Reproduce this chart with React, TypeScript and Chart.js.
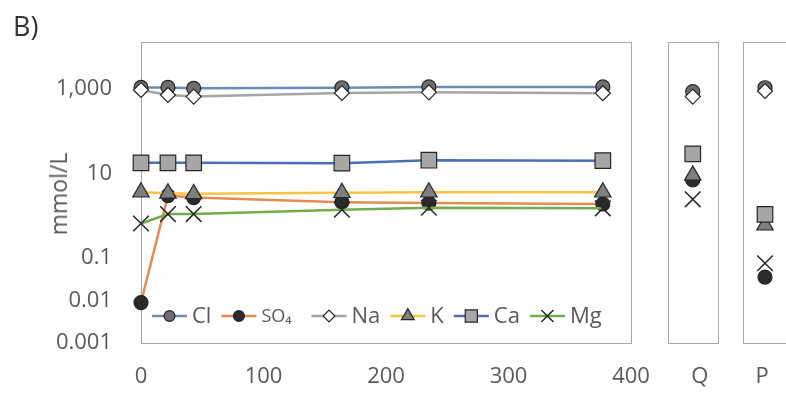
import React, { useEffect, useRef } from 'react';
import { Chart, registerables } from 'chart.js';

Chart.register(...registerables);

// ---- data ----
const days = [0, 22, 43, 164, 235, 377];
const ions = ['Cl', 'SO₄', 'Na', 'K', 'Ca', 'Mg'];
const clValues = [1070, 1070, 1020, 1050, 1100, 1100];
const so4Values = [0.009, 3.0, 2.7, 2.1, 2.0, 1.9];
const naValues = [930, 710, 650, 790, 820, 780];
const kValues = [3.6, 3.4, 3.3, 3.5, 3.6, 3.6];
const caValues = [17.8, 17.8, 17.8, 17.5, 20.5, 20];
const mgValues = [0.66, 1.1, 1.1, 1.4, 1.55, 1.5];
// side panels, values in the order of `ions`
const qValues = [850, 7.0, 650, 9, 29, 2.45];
const pValues = [1050, 0.036, 880, 0.6, 1.08, 0.076];
const qLabel = 'Q';
const pLabel = 'P';
const xTicks = [0, 100, 200, 300, 400];
const yTicks = [0.001, 0.01, 0.1, 1, 10, 100, 1000, 10000];
const yTickText: Record<string, string> = {
  '0.001': '0.001',
  '0.01': '0.01',
  '0.1': '0.1',
  '10': '10',
  '1000': '1,000',
};
const yTitle = 'mmol/L';
const panelTitle = 'B)';

const series = [clValues, so4Values, naValues, kValues, caValues, mgValues];

// ---- styles ----
const FONT = '"Open Sans", "Liberation Sans", sans-serif';
const TEXT = '#595959';
const styles = [
  { line: '#6b8db3', shape: 'circle', fill: '#6e6e6e', r: 7 },
  { line: '#e38d52', shape: 'circle', fill: '#2b2b2b', r: 7 },
  { line: '#a5a5a5', shape: 'rectRot', fill: '#ffffff', r: 7.5 },
  { line: '#f5c443', shape: 'triangle', fill: '#7f7f7f', r: 9.5 },
  { line: '#4a6fb5', shape: 'rect', fill: '#a6a6a6', r: 11 },
  { line: '#74ab4c', shape: 'crossRot', fill: '#333333', r: 11 },
];
const MARKER_BORDER = '#262626';

function drawMarker(ctx: CanvasRenderingContext2D, shape: string, x: number, y: number, r: number, fill: string) {
  ctx.save();
  ctx.beginPath();
  ctx.lineWidth = shape === 'crossRot' ? 1.5 : 1.2;
  ctx.strokeStyle = MARKER_BORDER;
  ctx.fillStyle = fill;
  if (shape === 'circle') {
    ctx.arc(x, y, r, 0, Math.PI * 2);
  } else if (shape === 'rectRot') {
    ctx.moveTo(x - r, y);
    ctx.lineTo(x, y - r);
    ctx.lineTo(x + r, y);
    ctx.lineTo(x, y + r);
    ctx.closePath();
  } else if (shape === 'triangle') {
    const w = r * Math.sqrt(3) / 2;
    ctx.moveTo(x, y - r);
    ctx.lineTo(x + w, y + r / 2);
    ctx.lineTo(x - w, y + r / 2);
    ctx.closePath();
  } else if (shape === 'rect') {
    const h = r * Math.SQRT1_2;
    ctx.rect(x - h, y - h, 2 * h, 2 * h);
  } else {
    const h = r * Math.SQRT1_2;
    ctx.moveTo(x - h, y - h);
    ctx.lineTo(x + h, y + h);
    ctx.moveTo(x + h, y - h);
    ctx.lineTo(x - h, y + h);
  }
  if (shape !== 'crossRot') ctx.fill();
  ctx.stroke();
  ctx.restore();
}

const boxPlugin = {
  id: 'plotBox',
  beforeDatasetsDraw(chart: any) {
    const { ctx, chartArea: a } = chart;
    ctx.save();
    ctx.strokeStyle = '#a6a6a6';
    ctx.lineWidth = 1;
    ctx.strokeRect(Math.round(a.left) + 0.5, Math.round(a.top) + 0.5, Math.round(a.right - a.left), Math.round(a.bottom - a.top));
    ctx.restore();
  },
};

const legendPlugin = {
  id: 'innerLegend',
  afterDraw(chart: any) {
    const { ctx, chartArea: a } = chart;
    const y = a.bottom - 27;
    const lineLen = 35;
    const textGap = 5;
    const itemGap = 10;
    const fonts = ions.map((l) => (l === 'SO₄' ? `18px ${FONT}` : `22px ${FONT}`));
    const extra = ions.map((l) => (l === 'SO₄' ? 10 : 0));
    ctx.save();
    let x = a.left + 11;
    ions.forEach((label, i) => {
      const st = styles[i];
      ctx.beginPath();
      ctx.strokeStyle = st.line;
      ctx.lineWidth = 2.5;
      ctx.moveTo(x, y);
      ctx.lineTo(x + lineLen, y);
      ctx.stroke();
      drawMarker(ctx, st.shape, x + lineLen / 2, y, st.r * 0.78, st.fill);
      ctx.font = fonts[i];
      ctx.fillStyle = TEXT;
      ctx.textAlign = 'left';
      ctx.textBaseline = 'middle';
      ctx.fillText(label, x + lineLen + textGap, y + 1);
      const w = ctx.measureText(label).width;
      x += lineLen + textGap + w + extra[i] + itemGap;
    });
    ctx.restore();
  },
};

function yScale(display: boolean) {
  return {
    type: 'logarithmic',
    display,
    min: 0.001,
    max: 12600,
    afterBuildTicks: (s: any) => {
      s.ticks = yTicks.map((v) => ({ value: v }));
    },
    afterFit: (s: any) => {
      s.width = display ? 141 : 0;
      s.paddingTop = 0;
      s.paddingBottom = 0;
    },
    grid: { display: false, drawTicks: false },
    border: { display: false },
    ticks: {
      autoSkip: false,
      color: TEXT,
      padding: 29,
      font: { family: FONT, size: 22 },
      callback: (v: any) => yTickText[String(v)] ?? '',
    },
    title: { display: false },
  };
}

function xTickCfg(labelOffset: number) {
  return {
    color: TEXT,
    padding: 21,
    maxRotation: 0,
    autoSkip: false,
    labelOffset,
    font: { family: FONT, size: 22 },
  };
}

function xFit(s: any) {
  s.height = 50;
  s.paddingLeft = 0;
  s.paddingRight = 0;
}

function mainConfig(): any {
  return {
    type: 'line',
    data: {
      datasets: ions.map((label, i) => ({
        label,
        data: days.map((d, j) => ({ x: d, y: series[i][j] })),
        borderColor: styles[i].line,
        borderWidth: 2.5,
        pointStyle: styles[i].shape,
        pointRadius: styles[i].r,
        pointBackgroundColor: styles[i].fill,
        pointBorderColor: MARKER_BORDER,
        pointBorderWidth: styles[i].shape === 'crossRot' ? 1.5 : 1.2,
        fill: false,
        tension: 0,
        clip: false,
        order: ions.length - i,
      })),
    },
    options: {
      animation: false,
      responsive: false,
      events: [],
      layout: { padding: { left: 0, top: 42, right: 19, bottom: 0 } },
      plugins: { legend: { display: false }, tooltip: { enabled: false } },
      scales: {
        x: {
          type: 'linear',
          min: 0,
          max: 400,
          afterBuildTicks: (s: any) => {
            s.ticks = xTicks.map((v) => ({ value: v }));
          },
          afterFit: xFit,
          grid: { display: false, drawTicks: false },
          border: { display: false },
          ticks: xTickCfg(0),
        },
        y: yScale(true),
      },
    },
    plugins: [boxPlugin, legendPlugin],
  };
}

function sideConfig(values: number[], label: string, padL: number, padR: number, labelOffset: number): any {
  return {
    type: 'line',
    data: {
      labels: [label],
      datasets: ions.map((name, i) => ({
        label: name,
        data: [values[i]],
        showLine: false,
        pointStyle: styles[i].shape,
        pointRadius: styles[i].r,
        pointBackgroundColor: styles[i].fill,
        pointBorderColor: MARKER_BORDER,
        pointBorderWidth: styles[i].shape === 'crossRot' ? 1.5 : 1.2,
        clip: false,
        order: ions.length - i,
      })),
    },
    options: {
      animation: false,
      responsive: false,
      events: [],
      layout: { padding: { left: padL, top: 42, right: padR, bottom: 0 } },
      plugins: { legend: { display: false }, tooltip: { enabled: false } },
      scales: {
        x: {
          type: 'category',
          offset: true,
          afterFit: xFit,
          grid: { display: false, drawTicks: false },
          border: { display: false },
          ticks: xTickCfg(labelOffset),
        },
        y: yScale(false),
      },
    },
    plugins: [boxPlugin],
  };
}

export default function App() {
  const mainRef = useRef<HTMLCanvasElement>(null);
  const qRef = useRef<HTMLCanvasElement>(null);
  const pRef = useRef<HTMLCanvasElement>(null);

  useEffect(() => {
    const charts = [
      new Chart(mainRef.current!, mainConfig()),
      new Chart(qRef.current!, sideConfig(qValues, qLabel, 18, 11, 7)),
      new Chart(pRef.current!, sideConfig(pValues, pLabel, 9, 10, -3)),
    ];
    return () => charts.forEach((c) => c.destroy());
  }, []);

  return (
    <div
      style={{
        position: 'fixed',
        left: 0,
        top: 0,
        width: 786,
        height: 393,
        overflow: 'hidden',
        background: '#ffffff',
      }}
    >
      <canvas ref={mainRef} width={650} height={393} style={{ position: 'absolute', left: 0, top: 0 }} />
      <canvas ref={qRef} width={80} height={393} style={{ position: 'absolute', left: 650, top: 0 }} />
      <canvas ref={pRef} width={70} height={393} style={{ position: 'absolute', left: 730, top: 0 }} />
      <div
        style={{
          position: 'absolute',
          left: 13,
          top: 7,
          fontFamily: FONT,
          fontSize: 27,
          color: '#333333',
          lineHeight: 'normal',
        }}
      >
        {panelTitle}
      </div>
      <div
        style={{
          position: 'absolute',
          left: 58,
          top: 194,
          transform: 'translate(-50%, -50%) rotate(-90deg)',
          fontFamily: FONT,
          fontSize: 23,
          color: TEXT,
          lineHeight: '26px',
          whiteSpace: 'nowrap',
        }}
      >
        {yTitle}
      </div>
    </div>
  );
}
